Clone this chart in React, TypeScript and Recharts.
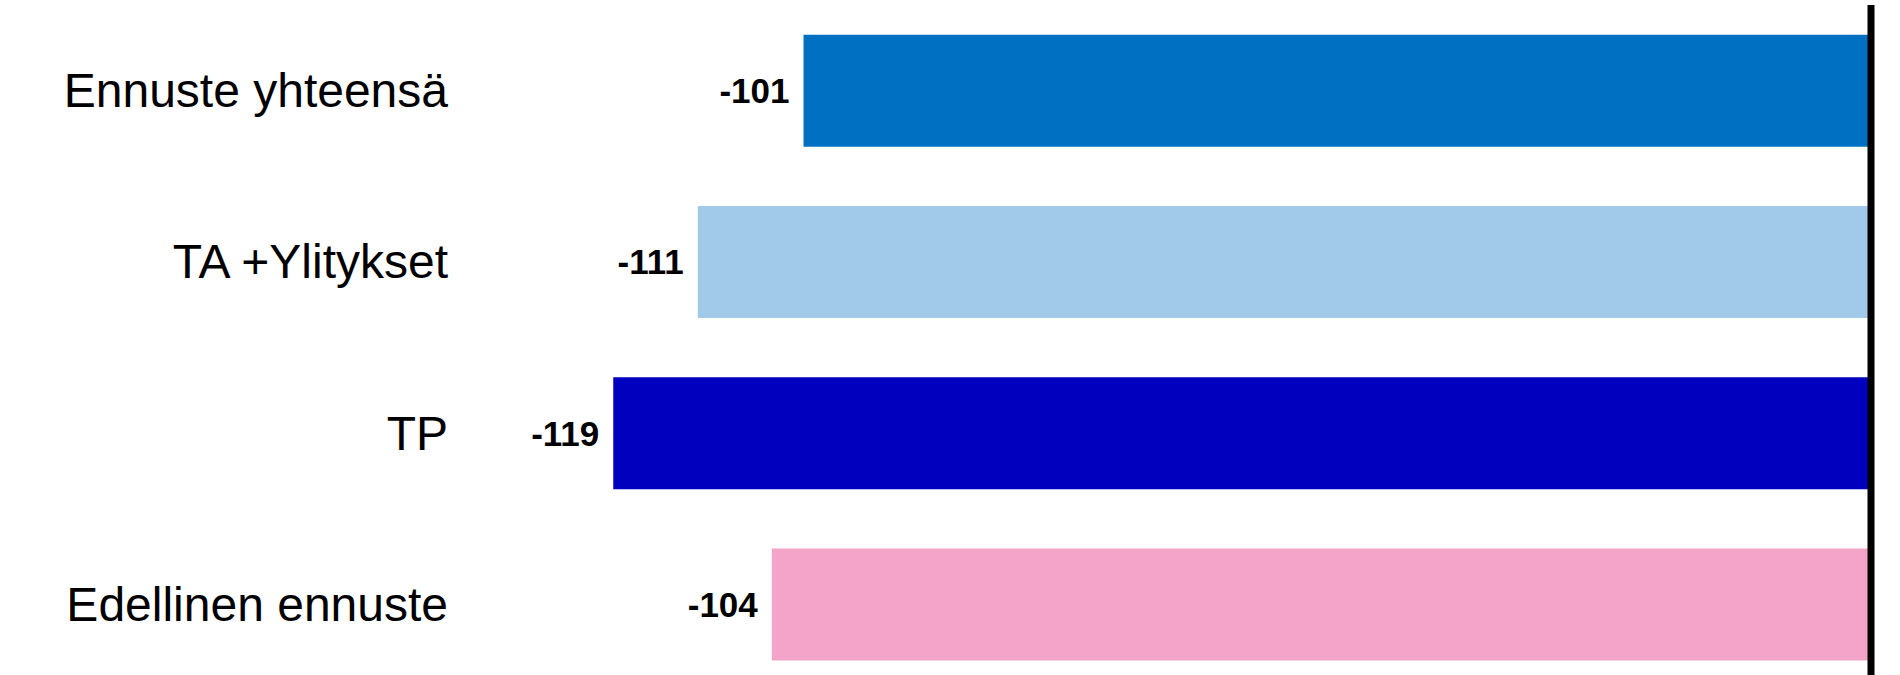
import React from 'react';
import { BarChart, Bar, XAxis, YAxis, Cell, LabelList, ReferenceLine } from 'recharts';

const categories = ['Ennuste yhteensä', 'TA +Ylitykset', 'TP', 'Edellinen ennuste'];
const values = [-101, -111, -119, -104];
const barColors = ['#0070C3', '#A0C9EA', '#0000BE', '#F4A4C8'];

const data = categories.map((name, i) => ({ name, value: values[i] }));

const CategoryTick = (props: any) => {
  const { x, y, payload } = props;
  return (
    <text
      x={x}
      y={y}
      textAnchor="end"
      dominantBaseline="central"
      fontFamily="'Liberation Sans', Arial, sans-serif"
      fontSize={48}
      fill="#000"
    >
      {payload.value}
    </text>
  );
};

const ValueLabel = (props: any) => {
  const { x, y, width, height, value } = props;
  const left = Math.min(x, x + width);
  return (
    <text
      x={left - 14}
      y={y + height / 2}
      textAnchor="end"
      dominantBaseline="central"
      fontFamily="'Liberation Sans', Arial, sans-serif"
      fontWeight="bold"
      fontSize={35}
      fill="#000"
    >
      {value}
    </text>
  );
};

export default function App() {
  return (
    <div style={{ position: 'fixed', top: 0, left: 0, width: 1900, height: 675, overflow: 'hidden', background: '#fff' }}>
      <BarChart
        width={1900}
        height={690}
        data={data}
        layout="vertical"
        margin={{ top: 5, right: 29, bottom: 0, left: 0 }}
        barCategoryGap="17.3%"
      >
        <XAxis type="number" domain={[-130, 0]} hide />
        <YAxis
          type="category"
          dataKey="name"
          width={497}
          axisLine={false}
          tickLine={false}
          tickSize={0}
          tickMargin={49}
          tick={<CategoryTick />}
        />
        <Bar dataKey="value" isAnimationActive={false}>
          {data.map((d, i) => (
            <Cell key={`cell-${i}`} fill={barColors[i]} />
          ))}
          <LabelList dataKey="value" content={<ValueLabel />} />
        </Bar>
        <ReferenceLine x={0} stroke="#000" strokeWidth={7} ifOverflow="extendDomain" />
      </BarChart>
    </div>
  );
}
